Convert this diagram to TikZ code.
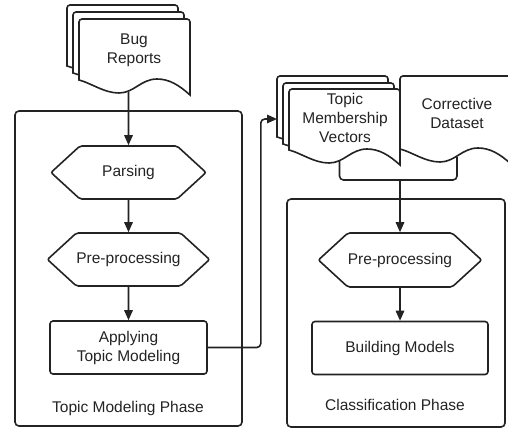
\documentclass[tikz,border=0pt]{standalone}
\usepackage{fontspec}
\setmainfont{Liberation Sans}
\usetikzlibrary{shapes.symbols,arrows.meta}
\definecolor{dgline}{RGB}{35,35,35}
\definecolor{dgtext}{RGB}{35,35,35}
\newcommand{\docsheet}[3]{%
  \filldraw[sheet] (#1,#2+61+#3) [rounded corners=3pt] -- (#1,#2) -- (#1+111,#2) [sharp corners] -- (#1+111,#2+76+#3)
    .. controls (#1+100,#2+66+#3) and (#1+90,#2+60+#3) .. (#1+78,#2+60+#3)
    .. controls (#1+62,#2+60+#3) and (#1+55,#2+74+#3) .. (#1+40,#2+74+#3)
    .. controls (#1+25,#2+74+#3) and (#1+12,#2+64+#3) .. (#1,#2+61+#3) -- cycle;}

\begin{document}
\begin{tikzpicture}[x=1pt, y=-1pt, line width=1.6pt, draw=dgline,
  every node/.style={font=\fontsize{15.5}{19}\selectfont, text=dgtext, align=center},
  sheet/.style={draw=dgline, fill=white},
  phase/.style={draw, rounded corners=4pt},
  prep/.style={draw, signal, signal to=east and west, signal pointer angle=85, minimum width=155pt, minimum height=53pt, inner sep=0pt, rounded corners=2pt},
  proc/.style={draw, rounded corners=3pt, minimum height=53pt},
  flow/.style={-{Triangle[length=10pt,width=8.5pt]}}]
  \useasboundingbox (0,0) rectangle (508,428);
  \node[phase, minimum width=227pt, minimum height=315pt] (tmbox) at (128.5,268.5) {};
  \node[phase, minimum width=218pt, minimum height=228pt] (clbox) at (396,313) {};

  \docsheet{67}{5}{0}
  \docsheet{73}{12}{0}
  \docsheet{79}{19}{0}
  \node (bug) at (134,50) {Bug\\Reports};
  \docsheet{277}{76}{0}
  \docsheet{283}{83}{0}
  \docsheet{289}{89}{0}
  \node (tmv) at (345,118) {Topic\\Membership\\Vectors};
  \docsheet{400}{76}{12}
  \node (corr) at (457,113) {Corrective\\Dataset};

  \node[prep] (parse) at (128.5,172.5) {Parsing};
  \node[prep] (prep1) at (128.5,259.5) {Pre-processing};
  \node[proc, minimum width=157pt] (apply) at (128.5,347.5) {Applying\\Topic Modeling};
  \node (tmlabel) at (128,408) {Topic Modeling Phase};

  \node[prep, minimum width=156pt, minimum height=54pt] (prep2) at (400,260) {Pre-processing};
  \node[proc, minimum width=176pt] (build) at (400,348) {Building Models};
  \node (cllabel) at (395,405) {Classification Phase};

  \coordinate (bugfoot) at (128.5,92);
  \coordinate (tmvin) at (277,119);
  \coordinate (tmvfoot) at (339.5,160);
  \coordinate (corrfoot) at (457,157);
  \coordinate (join) at (400,180);

  \draw[flow] (bugfoot) -- (parse);
  \draw[flow] (parse) -- (prep1);
  \draw[flow] (prep1) -- (apply);
  \draw[flow, rounded corners=4pt] (apply.east) -- ++(53,0) |- (tmvin);
  \draw[rounded corners=4pt] (tmvfoot) |- (join) -| (corrfoot);
  \draw[flow] (join) -- (prep2);
  \draw[flow] (prep2) -- (build);
\end{tikzpicture}
\end{document}
